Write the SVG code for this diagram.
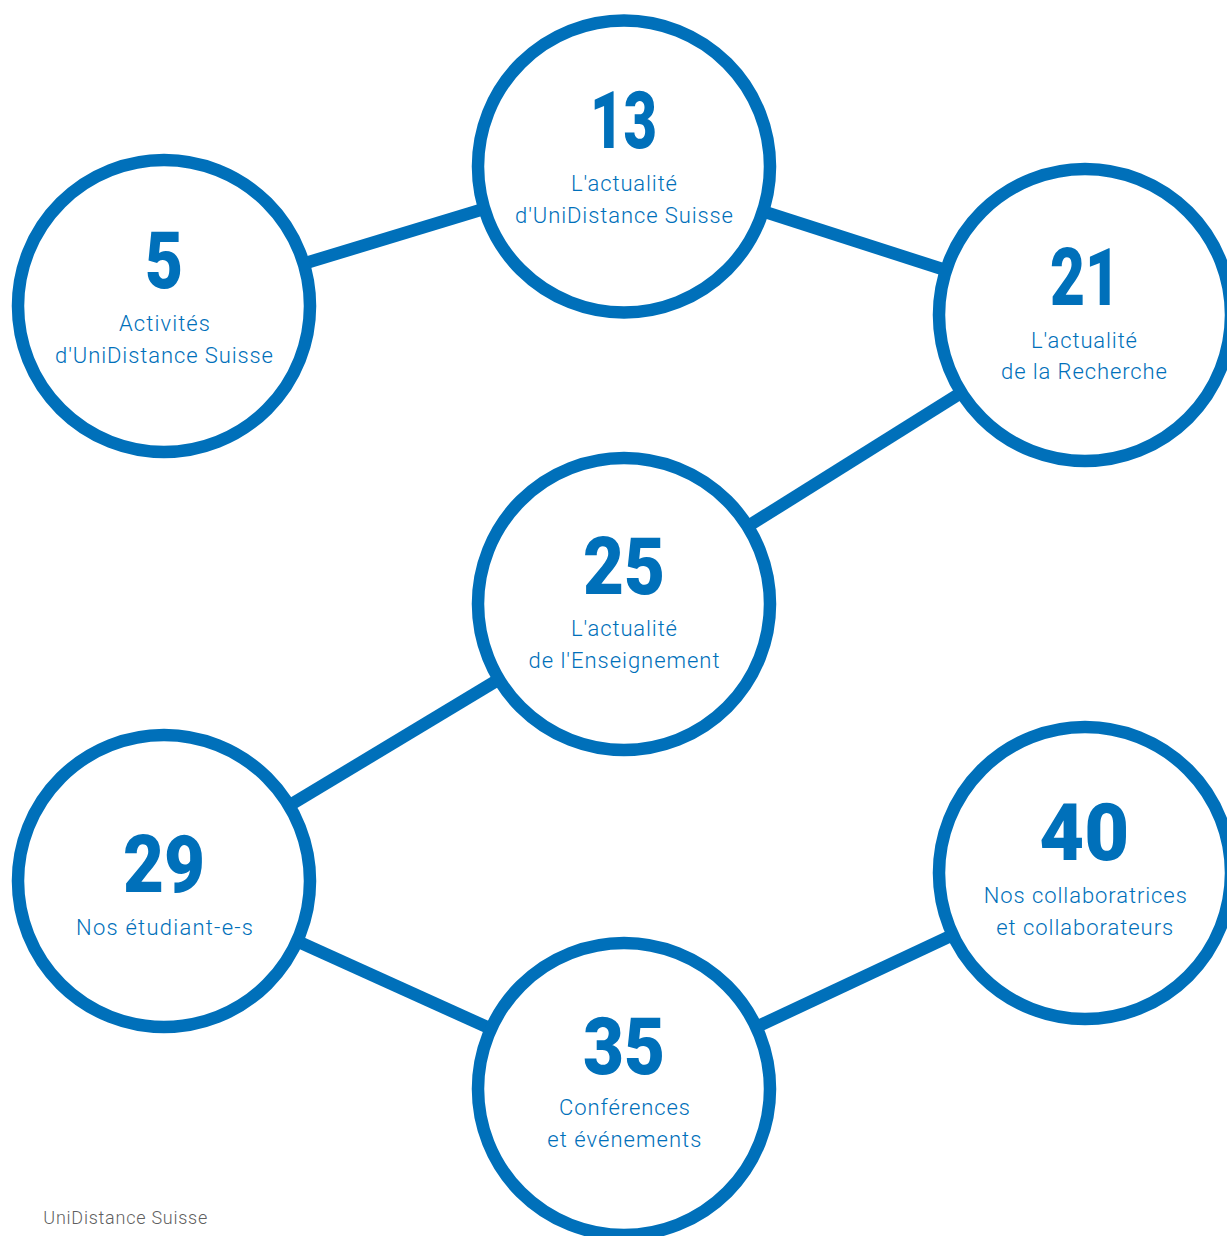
<svg xmlns="http://www.w3.org/2000/svg" width="1227" height="1236" viewBox="0 0 1227 1236">
<style>
.ring{fill:#ffffff;stroke:#0070BA;stroke-width:12.5}
.edge{stroke:#0070BA;stroke-width:12.5;fill:none}
.num{font-family:Roboto,"Liberation Sans",sans-serif;font-weight:900;font-size:79px;fill:#0070BA;text-anchor:middle}
.lbl{font-family:Roboto,"Liberation Sans",sans-serif;font-weight:300;font-size:22px;fill:#0070BA;text-anchor:middle}
.foot{font-family:Roboto,"Liberation Sans",sans-serif;font-weight:300;font-size:18px;fill:#5f5f5f}
</style>
<rect width="1227" height="1236" fill="#ffffff"/>
<g id="connectors">
<line class="edge" x1="164" y1="306" x2="624" y2="166.5"/>
<line class="edge" x1="624" y1="166.5" x2="1085" y2="315"/>
<line class="edge" x1="1085" y1="315" x2="624" y2="604"/>
<line class="edge" x1="624" y1="604" x2="164" y2="881"/>
<line class="edge" x1="164" y1="881" x2="624" y2="1089"/>
<line class="edge" x1="624" y1="1089" x2="1085" y2="873"/>
</g>
<g id="node-5">
<circle class="ring" cx="164" cy="306" r="146"/>
<text class="num" x="164" y="288.3" textLength="38" lengthAdjust="spacingAndGlyphs">5</text>
<text class="lbl" x="164.5" y="330.7" textLength="91">Activités</text>
<text class="lbl" x="164" y="362.7" textLength="218">d'UniDistance Suisse</text>
</g>
<g id="node-13">
<circle class="ring" cx="624" cy="166.5" r="146"/>
<text class="num" x="623.5" y="148.3" textLength="67" lengthAdjust="spacingAndGlyphs">13</text>
<text class="lbl" x="624" y="190.7" textLength="106">L'actualité</text>
<text class="lbl" x="624" y="222.7" textLength="218">d'UniDistance Suisse</text>
</g>
<g id="node-21">
<circle class="ring" cx="1085" cy="315" r="146"/>
<text class="num" x="1085" y="305" textLength="70" lengthAdjust="spacingAndGlyphs">21</text>
<text class="lbl" x="1084" y="347.7" textLength="106">L'actualité</text>
<text class="lbl" x="1084" y="379.3" textLength="166">de la Recherche</text>
</g>
<g id="node-25">
<circle class="ring" cx="624" cy="604" r="146"/>
<text class="num" x="624" y="594" textLength="82" lengthAdjust="spacingAndGlyphs">25</text>
<text class="lbl" x="624" y="636" textLength="106">L'actualité</text>
<text class="lbl" x="624" y="667.7" textLength="191">de l'Enseignement</text>
</g>
<g id="node-29">
<circle class="ring" cx="164" cy="881" r="146"/>
<text class="num" x="164" y="891.7" textLength="82" lengthAdjust="spacingAndGlyphs">29</text>
<text class="lbl" x="164.5" y="935" textLength="177">Nos étudiant-e-s</text>
</g>
<g id="node-35">
<circle class="ring" cx="624" cy="1089" r="146"/>
<text class="num" x="624" y="1074" textLength="82" lengthAdjust="spacingAndGlyphs">35</text>
<text class="lbl" x="624.5" y="1115.3" textLength="131">Conférences</text>
<text class="lbl" x="624.3" y="1147.3" textLength="154">et événements</text>
</g>
<g id="node-40">
<circle class="ring" cx="1085" cy="873" r="146"/>
<text class="num" x="1084.3" y="860" textLength="90" lengthAdjust="spacingAndGlyphs">40</text>
<text class="lbl" x="1085.3" y="903.3" textLength="203">Nos collaboratrices</text>
<text class="lbl" x="1084.7" y="935" textLength="177">et collaborateurs</text>
</g>
<text class="foot" x="43.3" y="1224" textLength="164">UniDistance Suisse</text>
</svg>
